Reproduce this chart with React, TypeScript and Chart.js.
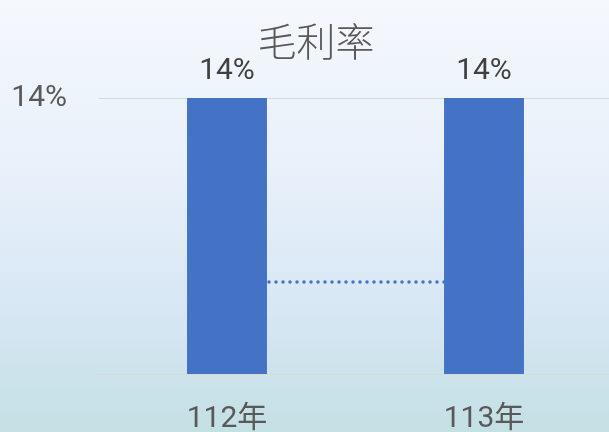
import { useEffect, useRef } from "react";
import { Chart, registerables } from "chart.js";

Chart.register(...registerables);

const chartTitle = "毛利率";
const categories = ["112年", "113年"];
const marginValues = [14, 14];
const dottedValues = [13.6, 13.6];
const yTickValues = [14];
const yMin = 13.4;
const yMax = 14;

const NUM_FONT = "Roboto, 'Noto Sans CJK TC', sans-serif";
const CJK_FONT = "'Noto Sans CJK TC', sans-serif";

const titlePlugin = {
  id: "customTitle",
  afterDraw(chart: any) {
    const ctx = chart.ctx;
    ctx.save();
    ctx.font = `300 39px ${CJK_FONT}`;
    ctx.fillStyle = "#595959";
    ctx.textAlign = "center";
    ctx.textBaseline = "middle";
    ctx.fillText(chartTitle, 316, 41);
    ctx.restore();
  },
};

const labelPlugin = {
  id: "barLabels",
  afterDatasetsDraw(chart: any) {
    const ctx = chart.ctx;
    const meta = chart.getDatasetMeta(0);
    ctx.save();
    ctx.font = `30px ${NUM_FONT}`;
    ctx.fillStyle = "#404040";
    ctx.textAlign = "center";
    ctx.textBaseline = "alphabetic";
    meta.data.forEach((bar: any, i: number) => {
      ctx.fillText(marginValues[i] + "%", bar.x, bar.y - 19);
    });
    ctx.restore();
  },
};

export default function App() {
  const ref = useRef<HTMLCanvasElement>(null);
  useEffect(() => {
    if (!ref.current) return;
    const chart = new Chart(ref.current, {
      type: "bar",
      data: {
        labels: categories,
        datasets: [
          {
            type: "bar",
            data: marginValues,
            backgroundColor: "#4472C4",
            barPercentage: 0.311,
            categoryPercentage: 1,
            order: 1,
          } as any,
          {
            type: "line",
            data: dottedValues,
            borderColor: "#4472C4",
            borderWidth: 3.5,
            borderDash: [0, 7],
            borderCapStyle: "round",
            pointRadius: 0,
            fill: false,
            order: 2,
          } as any,
        ],
      },
      options: {
        animation: false,
        responsive: false,
        maintainAspectRatio: false,
        layout: { padding: { top: 98, right: 7.5, left: 0, bottom: 0 } },
        plugins: {
          legend: { display: false },
          tooltip: { enabled: false },
          title: { display: false },
        },
        scales: {
          x: {
            grid: { display: false, drawTicks: false },
            border: { display: true, color: "#D9D9D9", width: 1 },
            ticks: {
              color: "#595959",
              font: { family: NUM_FONT, size: 30 },
              padding: 27,
            },
            afterFit: (s: any) => {
              s.height = 58;
            },
          },
          y: {
            min: yMin,
            max: yMax,
            afterBuildTicks: (s: any) => {
              s.ticks = yTickValues.map((v) => ({ value: v }));
            },
            grid: { color: "#D9D9D9", drawTicks: false, lineWidth: 1 },
            border: { display: false },
            ticks: {
              color: "#595959",
              font: { family: NUM_FONT, size: 30 },
              padding: 31.5,
              callback: (v: any) => v + "%",
            },
            afterFit: (s: any) => {
              s.width = 98.5;
            },
          },
        },
      },
      plugins: [labelPlugin, titlePlugin],
    });
    return () => chart.destroy();
  }, []);

  return (
    <div
      style={{
        position: "fixed",
        left: 0,
        top: 0,
        width: 620,
        height: 432,
        background:
          "linear-gradient(to bottom, #F5F8FD 0%, #E8F0FA 40%, #D8E7F5 70%, #C3E0E4 100%)",
      }}
    >
      <canvas ref={ref} width={620} height={432} style={{ display: "block" }} />
    </div>
  );
}
